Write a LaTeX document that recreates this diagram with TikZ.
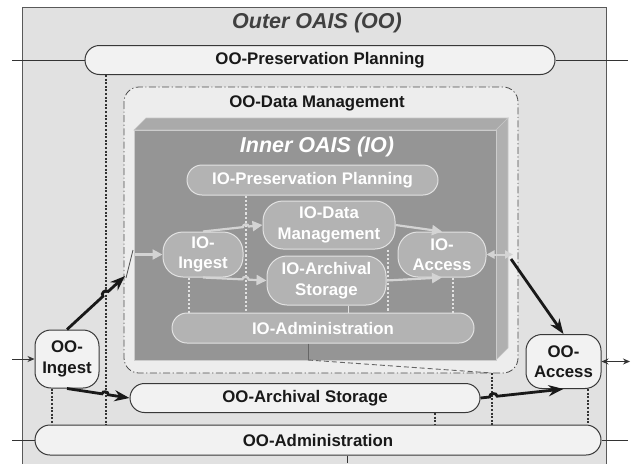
\documentclass[tikz,border=0pt]{standalone}
\usepackage{fontspec}
\setmainfont{Liberation Sans}
\setsansfont{Liberation Sans}
\usetikzlibrary{arrows.meta,calc}
\definecolor{outerbg}{HTML}{E1E1E1}
\definecolor{dmbg}{HTML}{EDEDED}
\definecolor{oofill}{HTML}{F2F2F2}
\definecolor{frontc}{HTML}{959595}
\definecolor{topc}{HTML}{AAAAAA}
\definecolor{sidec}{HTML}{B0B0B0}
\definecolor{iofill}{HTML}{B3B3B3}
\definecolor{ioline}{HTML}{E2E2E2}
\definecolor{garrow}{HTML}{D4D4D4}
\newcommand\mylab{\fontsize{16.8}{20.5}\selectfont\bfseries}
\newcommand\mytitle{\fontsize{21.5}{24}\selectfont\bfseries\itshape}
\tikzset{
  oonode/.style={draw=black!78, fill=oofill, line width=1pt, font=\mylab, text=black!90, align=center, inner sep=0pt},
  ionode/.style={draw=ioline, fill=iofill, line width=1pt, font=\mylab, text=white, align=center, inner sep=0pt},
  bigarrow/.style={line width=2.8pt, draw=black!90, -{Stealth[length=15pt,width=11pt]}},
  grayarrow/.style={line width=2.2pt, draw=garrow, -{Triangle[length=10pt,width=10pt]}},
  grayboth/.style={line width=2pt, draw=garrow, {Triangle[length=8pt,width=8pt]}-{Triangle[length=8pt,width=8pt]}},
  oodots/.style={draw=black!80, line width=1.1pt, dash pattern=on 2pt off 1.6pt},
  iodots/.style={draw=ioline, line width=1.1pt, dash pattern=on 2.2pt off 2pt},
  thinline/.style={draw=black!80, line width=0.9pt},
}
\begin{document}
\begin{tikzpicture}[x=1pt,y=-1pt]
\useasboundingbox (0,0) rectangle (634,463);
% outer OAIS
\path[fill=outerbg, draw=black!65, line width=1pt] (22,7) rectangle (606,475);
\node[font=\mytitle, text=black!75] (outerT) at (317,23) {Outer OAIS (OO)};
% data management region
\path[fill=dmbg, draw=black!70, line width=0.8pt, dash pattern=on 7pt off 2.5pt on 1.2pt off 2.5pt, rounded corners=15pt] (124,87) rectangle (518,373);
\node[font=\mylab, text=black!90] (dmT) at (317,103) {OO-Data Management};
% inner 3D box
\path[fill=topc, draw=gray!45, line width=0.6pt] (134,130) -- (146,118) -- (508,118) -- (496,130) -- cycle;
\path[fill=sidec, draw=gray!45, line width=0.6pt] (496,130) -- (508,118) -- (508,348) -- (496,360) -- cycle;
\path[fill=frontc, draw=gray!40, line width=0.6pt] (134,130) rectangle (496,360);
\node[font=\mytitle, text=white] (innerT) at (317,147) {Inner OAIS (IO)};

% coordinates
\coordinate (c52) at (52,0);
\coordinate (c106) at (106,0);
\coordinate (c189) at (189,0);
\coordinate (c246) at (246,0);
\coordinate (c308) at (308,0);
\coordinate (c348) at (348,0);
\coordinate (c388) at (388,0);
\coordinate (c435) at (435,0);
\coordinate (c453) at (453,0);
\coordinate (c588) at (588,0);
\coordinate (fb) at (308,360);
\coordinate (dmJ) at (492,373);
\coordinate (dmIn) at (125,276);
\coordinate (gapA) at (126,278);
\coordinate (gapB) at (133,250);
\coordinate (ioIn) at (135,254.5);
\coordinate (ioOut) at (513,254.5);
\coordinate (ioOutB) at (511,259);
\coordinate (lPP) at (12,60);
\coordinate (rPP) at (628,60);
\coordinate (lIn) at (12,359);
\coordinate (rOut) at (630,361.5);
\coordinate (lAdm) at (12,440);
\coordinate (rAdm) at (628,440);
\coordinate (bAdm) at (347,463);

% OO nodes
\node[oonode, minimum width=470pt, minimum height=29pt, rounded corners=14.5pt] (ooPP) at (320,60) {OO-Preservation Planning};
\node[oonode, minimum width=64pt, minimum height=58pt, rounded corners=16pt] (ooIng) at (67,359) {OO-\\Ingest};
\node[oonode, minimum width=75pt, minimum height=54pt, rounded corners=16pt] (ooAcc) at (563.5,361.5) {OO-\\Access};
\node[oonode, minimum width=350pt, minimum height=29pt, rounded corners=14.5pt] (ooAS) at (305,398) {OO-Archival Storage};
\node[oonode, minimum width=566pt, minimum height=30pt, rounded corners=15pt] (ooAdm) at (318,440) {OO-Administration};

% IO nodes
\node[ionode, minimum width=251pt, minimum height=30pt, rounded corners=15pt] (ioPP) at (312.5,180) {IO-Preservation Planning};
\node[ionode, minimum width=132pt, minimum height=48pt, rounded corners=20pt] (ioDM) at (329,225) {IO-Data\\Management};
\node[ionode, minimum width=119pt, minimum height=49pt, rounded corners=20pt] (ioAS) at (326.5,280.5) {IO-Archival\\Storage};
\node[ionode, minimum width=80pt, minimum height=45pt, rounded corners=20pt] (ioIng) at (203,254.5) {IO-\\Ingest};
\node[ionode, minimum width=88pt, minimum height=45pt, rounded corners=20pt] (ioAcc) at (442,254.5) {IO-\\Access};
\node[ionode, minimum width=302pt, minimum height=30pt, rounded corners=15pt] (ioAdm) at (323,328) {IO-Administration};

% inner dotted links
\draw[iodots] (ioIng.south -| c189) -- (ioAdm.north -| c189);
\draw[iodots] (ioPP.south -| c246) -- (ioAdm.north -| c246);
\draw[iodots] (ioDM.south -| c388) -- (ioAdm.north -| c388);
\draw[iodots] (ioAcc.south -| c453) -- (ioAdm.north -| c453);
\draw[draw=ioline, line width=1pt] (ioAS.south -| c348) -- (ioAdm.north -| c348);

% inner gray arrows
\draw[grayarrow] (ioIn) -- (ioIng.west);
\draw[grayarrow] (ioIng.north) -- ($(ioIng.north)!0.67!(ioDM.west)$) to[bend left=90, looseness=1.4] ($(ioIng.north)!0.77!(ioDM.west)$) -- (ioDM.west);
\draw[grayarrow] (ioIng.south) -- ($(ioIng.south)!0.62!(ioAS.west)$) to[bend left=90, looseness=1.4] ($(ioIng.south)!0.72!(ioAS.west)$) -- (ioAS.west);
\draw[grayarrow] (ioDM.east) -- (ioAcc.north);
\draw[grayarrow] (ioAS.east) -- (ioAcc.south);
\draw[grayboth] (ioAcc.east) -- (ioOut);

% outer dotted links
\draw[oodots] (ooIng.south -| c52) -- (ooAdm.north -| c52);
\draw[oodots] (ooPP.south -| c106) -- (ooAdm.north -| c106);
\draw[oodots] (ooAS.south -| c435) -- (ooAdm.north -| c435);
\draw[oodots] (ooAcc.south -| c588) -- (ooAdm.north -| c588);
\draw[oodots] (dmJ) -- (ooAdm.north -| dmJ);
\draw[draw=black!60, line width=0.9pt] (ioAdm.south -| c308) -- (fb);
\draw[draw=black!60, line width=0.9pt, dash pattern=on 5pt off 3pt] (fb) -- (dmJ);

% external lines
\draw[thinline] (lPP) -- (ooPP.west);
\draw[thinline] (ooPP.east) -- (rPP);
\draw[thinline, -{Stealth[length=7pt,width=6pt]}] (lIn) -- (ooIng.west);
\draw[thinline, {Stealth[length=7pt,width=6pt]}-{Stealth[length=7pt,width=6pt]}] (ooAcc.east) -- (rOut);
\draw[thinline] (lAdm) -- (ooAdm.west);
\draw[thinline] (ooAdm.east) -- (rAdm);
\draw[thinline] (ooAdm.south -| bAdm) -- (bAdm);

% gap marker on data management border
\draw[draw=black!70, line width=0.8pt] (gapA) -- (gapB);

% black arrows
\draw[bigarrow] (ooIng.north) -- ($(ooIng.north)!0.62!(dmIn)$) to[bend left=90, looseness=1.4] ($(ooIng.north)!0.71!(dmIn)$) -- (dmIn);
\draw[bigarrow] (ooIng.south) -- ($(ooIng.south)!0.56!(ooAS.west)$) to[bend left=90, looseness=1.4] ($(ooIng.south)!0.66!(ooAS.west)$) -- (ooAS.west);
\draw[bigarrow] (ooAS.east) -- ($(ooAS.east)!0.11!(ooAcc.south)$) to[bend left=90, looseness=1.4] ($(ooAS.east)!0.20!(ooAcc.south)$) -- (ooAcc.south);
\draw[bigarrow] (ioOutB) -- (ooAcc.north);
\end{tikzpicture}
\end{document}
